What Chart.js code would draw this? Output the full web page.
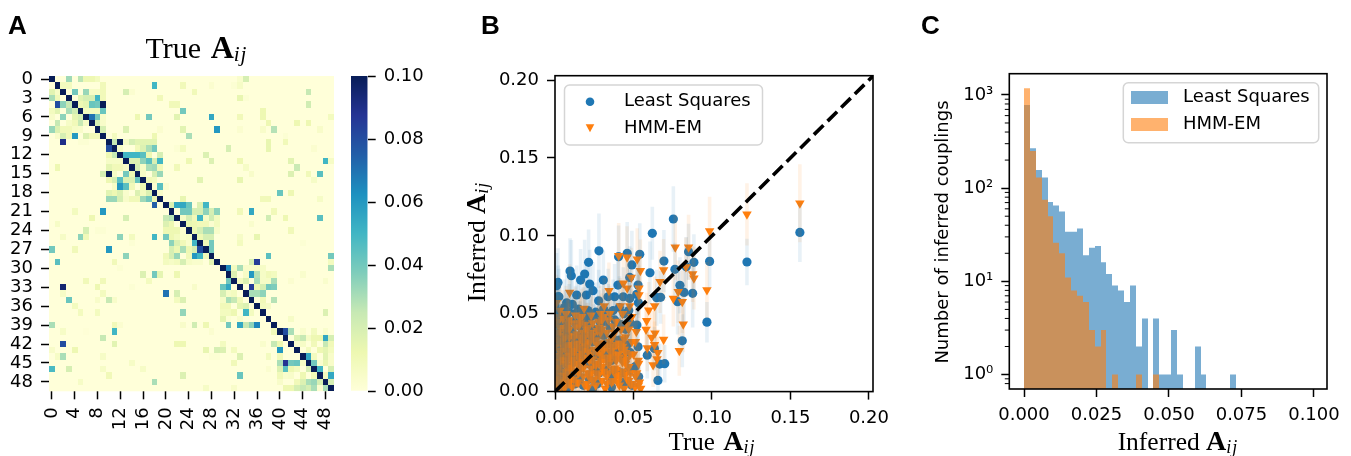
<!DOCTYPE html>
<html><head><meta charset="utf-8">
<script src="https://cdn.jsdelivr.net/npm/chart.js@4"></script>
<style>
html,body{margin:0;padding:0;background:#fff;width:1351px;height:456px;overflow:hidden}
canvas{position:absolute;top:0}
.t{position:absolute;white-space:nowrap;color:#000;line-height:1}
.letter{font:bold 26px "Liberation Sans",sans-serif}
.m{font-family:"Liberation Serif",serif;font-size:25.5px}
.m b{font-size:28px}
.m sub{font-size:18px;font-style:italic;vertical-align:-3px;line-height:0;letter-spacing:1px}
.c{transform:translate(-50%,-50%)}
.r{transform:translate(-50%,-50%) rotate(-90deg)}
.s{font:18px "DejaVu Sans",sans-serif}
</style></head><body>
<canvas id="heat" width="345" height="456" style="left:0"></canvas>
<canvas id="cbar" width="95" height="456" style="left:345px"></canvas>
<canvas id="scat" width="465" height="456" style="left:440px"></canvas>
<canvas id="hist" width="451" height="456" style="left:900px"></canvas>
<div class="t letter" style="left:8px;top:10px">A</div>
<div class="t letter" style="left:481px;top:10px">B</div>
<div class="t letter" style="left:921px;top:10px">C</div>
<div class="t m c" style="left:196.5px;top:47px;font-size:30px;word-spacing:2px">True <b style="font-size:32px">A</b><sub style="font-size:21px">ij</sub></div>
<div class="t m c" style="left:712px;top:441px;font-size:25px;word-spacing:2px">True <b>A</b><sub>ij</sub></div>
<div class="t m r" style="left:475.5px;top:241.5px">Inferred <b>A</b><sub>ij</sub></div>
<div class="t m c" style="left:1178px;top:441px">Inferred <b>A</b><sub>ij</sub></div>
<div class="t s r" style="left:941px;top:232px">Number of inferred couplings</div>
<script>
// ---------- Panel A: true coupling matrix, per row: [col, value, col, value, ...]
const heatRows = [
[0,.1,3,.032,5,.027,6,.012,7,.012,8,.008,33,.004,34,.02],
[1,.1,2,.008,3,.008,9,.01,18,.05,23,.01,28,.003,32,.002,33,.006],
[0,.016,1,.006,2,.1,4,.04,6,.033,7,.006,8,.006,9,.01,13,.02,14,.003,25,.01,45,.025],
[0,.03,1,.01,3,.1,5,.016,6,.02,7,.02,8,.05,9,.01,19,.01,33,.014,34,.002],
[1,.08,2,.035,3,.025,4,.1,5,.012,6,.015,7,.042,8,.04,9,.1,21,.01,22,.01,45,.022],
[0,.008,1,.016,3,.03,4,.022,5,.1,6,.008,7,.008,8,.008,9,.042,23,.04,37,.012],
[0,.005,2,.035,4,.015,5,.02,6,.1,7,.07,8,.04,9,.005,15,.012,17,.04,22,.016,28,.055,33,.01,37,.012,49,.008],
[1,.025,3,.006,4,.01,5,.025,6,.006,7,.1,8,.02,9,.005,38,.012,43,.012,45,.012],
[0,.033,1,.018,2,.01,3,.01,4,.006,5,.005,8,.1,9,.02,13,.018,19,.003,23,.016,29,.06,33,.003,37,.005,39,.028,47,.005],
[1,.005,2,.02,3,.01,4,.06,6,.018,7,.01,8,.01,9,.1,11,.008,18,.012,24,.03,41,.002],
[2,.09,5,.002,6,.002,10,.1,11,.025,12,.1,13,.006,14,.02,15,.016,16,.016,17,.016,18,.016,38,.014,41,.01],
[10,.08,11,.1,12,.006,15,.01,16,.018,17,.03,18,.04,22,.002,23,.008,31,.02,38,.014,46,.003],
[10,.012,11,.025,12,.1,13,.05,14,.05,15,.05,16,.045,17,.012,19,.02,27,.018],
[10,.006,11,.006,12,.006,13,.1,14,.018,15,.018,16,.035,17,.045,18,.02,19,.05,24,.012,28,.018,33,.012,42,.016,48,.05,49,.006],
[1,.012,10,.015,11,.01,12,.01,13,.006,14,.1,15,.02,16,.006,17,.03,18,.032,19,.01,22,.01,34,.006,43,.024],
[9,.02,10,.1,11,.006,13,.04,14,.012,15,.1,16,.006,18,.02,19,.033,35,.005,42,.018,45,.01,47,.045],
[10,.012,11,.02,12,.045,13,.018,14,.018,15,.042,16,.1,17,.01,18,.008,26,.016,33,.014,46,.006],
[11,.006,12,.06,13,.045,14,.01,16,.012,17,.1,18,.003,19,.045,20,.003],
[10,.016,11,.012,12,.018,13,.004,15,.018,16,.008,17,.018,18,.1,19,.005,40,.042,42,.012],
[10,.033,11,.033,12,.02,13,.005,14,.01,15,.01,16,.032,17,.04,18,.012,19,.1,23,.014,37,.01,38,.01,47,.006],
[18,.075,20,.1,21,.018,22,.055,23,.055,24,.042,26,.018,27,.05],
[4,.008,9,.06,21,.1,23,.04,24,.04,25,.02,26,.02,27,.035,28,.02,29,.035,33,.01,35,.055,39,.01],
[7,.012,13,.02,20,.025,21,.028,22,.1,23,.006,24,.02,25,.01,26,.05,27,.006,28,.022,29,.008,38,.022,41,.012,47,.045],
[1,.006,20,.018,21,.012,23,.1,24,.014,25,.012,26,.01,27,.01,28,.003,29,.008,35,.004],
[6,.02,8,.002,9,.002,20,.012,21,.012,22,.012,23,.003,24,.1,25,.012,26,.02,27,.03,28,.03,29,.005,42,.01],
[2,.006,5,.035,6,.01,12,.035,14,.008,18,.05,20,.04,21,.012,22,.008,23,.004,24,.006,25,.1,26,.012,27,.02,28,.02,33,.006,36,.014],
[14,.002,21,.035,22,.018,23,.01,24,.004,25,.05,26,.1,27,.01,28,.04,33,.008,44,.002],
[0,.04,4,.01,10,.06,21,.02,22,.012,23,.03,24,.012,25,.02,26,.08,27,.1,28,.04],
[13,.035,20,.01,21,.02,22,.033,24,.01,25,.06,26,.05,27,.01,28,.1,38,.045,49,.04],
[1,.045,11,.01,20,.008,21,.006,22,.008,23,.02,24,.006,25,.004,26,.004,28,.015,29,.1,35,.02,36,.085,49,.008],
[12,.002,30,.1,31,.065,32,.008,33,.03,34,.005,35,.005,36,.006,37,.006,49,.03],
[16,.018,18,.04,19,.015,22,.012,31,.1,32,.018,34,.006,35,.06,36,.028,37,.006,38,.01,39,.008,44,.004],
[6,.01,9,.01,17,.008,31,.04,32,.1,33,.008,34,.018,36,.03,37,.006,38,.006,39,.03,42,.003,48,.004],
[2,.095,8,.012,14,.002,25,.005,30,.042,31,.055,33,.1,35,.085,36,.012,37,.02,38,.04,39,.038],
[2,.006,9,.008,20,.07,22,.02,30,.02,31,.006,32,.008,34,.1,35,.03,36,.03,37,.035],
[3,.042,8,.005,10,.025,11,.005,22,.008,23,.018,30,.006,31,.03,32,.025,33,.01,35,.1,37,.01,39,.028],
[4,.008,30,.01,31,.01,33,.015,34,.018,36,.1,37,.008,38,.006],
[5,.008,8,.008,23,.034,30,.008,31,.008,32,.012,34,.05,35,.008,37,.1,48,.018],
[30,.015,31,.002,33,.004,38,.1,42,.006],
[0,.03,11,.01,12,.003,23,.005,25,.022,27,.012,31,.04,33,.055,34,.025,35,.035,36,.065,39,.1],
[2,.006,6,.001,11,.05,28,.003,39,.01,40,.1,41,.08,42,.03,44,.004,46,.008,48,.004],
[9,.025,41,.1,43,.018,44,.025,45,.006,46,.012,47,.012,48,.055,49,.02],
[2,.08,11,.016,22,.012,23,.012,30,.008,37,.004,39,.025,40,.012,42,.1,43,.003,44,.006,46,.01,48,.025,49,.01],
[0,.005,4,.012,27,.014,29,.02,30,.018,32,.008,40,.06,43,.1,45,.008,47,.012,48,.015,49,.008],
[1,.006,2,.03,9,.006,28,.002,29,.002,33,.018,38,.008,40,.01,44,.1,45,.055,46,.008,48,.016,49,.005],
[14,.006,32,.01,40,.03,41,.088,42,.04,43,.042,44,.006,45,.1,46,.04,47,.004,48,.014,49,.005],
[0,.048,3,.02,9,.006,16,.006,38,.003,40,.018,41,.045,42,.012,43,.008,45,.02,46,.1,47,.05,49,.02],
[10,.01,23,.018,33,.042,40,.01,41,.004,42,.005,44,.012,46,.01,47,.1,48,.008,49,.055],
[5,.006,18,.03,40,.005,43,.01,44,.018,45,.03,46,.033,47,.02,48,.1,49,.02],
[27,.006,32,.005,41,.012,42,.012,43,.02,44,.025,45,.02,46,.03,47,.003,48,.03,49,.1]
];
const heatXTicks = [0,4,8,12,16,20,24,28,32,36,40,44,48];
const heatYTicks = [0,3,6,9,12,15,18,21,24,27,30,33,36,39,42,45,48];
const cbarTicks = [0,.02,.04,.06,.08,.1];
const cmap = ['#ffffd9','#edf8b1','#c7e9b4','#7fcdbb','#41b6c4','#1d91c0','#225ea8','#253494','#081d58'];

// ---------- Panel B: true vs inferred couplings
const lsX = [.156,.1223,.0985,.0968,.0885,.0877,.0851,.0822,.0811,.0836,.0796,.0781,.0764,.0754,.0694,.0699,.0667,.0656,.0673,.0648,.0633,.062,.0605,.0588,.0533,.0529,.0529,.0531,.054,.0522,.051,.052,.0476,.0476,.049,.046,.0435,.0405,.0401,.038,.0338,.0308,.0278,.028,.0242,.0221,.0214,.02,.0189,.0163,.0138,.0104,.0096,.0074,.0025,.0019,
.001,.002,0,.001,.003,.001,.002,.004,.001,.002,0,.003,.001,.004,.002,0,.003,.001,.002,.004,.001,.003,
.006,.007,.009,.005,.008,.006,.009,.007,.005,.008,.006,.009,.007,.005,.008,
.011,.013,.015,.018,.012,.016,.019,.011,.014,.017,.012,.015,.018,.011,.014,.017,.019,.012,.016,.013,.018,
.021,.023,.026,.028,.022,.025,.029,.021,.024,.027,.023,.026,.029,.021,.025,.028,.022,.027,.024,
.031,.034,.037,.032,.035,.038,.031,.034,.037,.033,.036,.039,.032,.035,.038,.036,
.041,.044,.047,.042,.045,.048,.041,.046,.043,.048,.042,.047,.044,.049];
const lsY = [.1022,.0832,.0836,.0446,.083,.0631,.0898,.0637,.0326,.0802,.0682,.0577,.0785,.1108,.0838,.0179,.0177,.0072,.0605,.0603,.0277,.1016,.0763,.0234,.0095,.0288,.0684,.057,.0881,.0427,.016,.0624,.0733,.0598,.0813,.0888,.0609,.0866,.0684,.0609,.0609,.0716,.0583,.0904,.0648,.069,.083,.062,.0755,.0716,.062,.0744,.0774,.057,.0609,.0701,
.068,.061,.055,.052,.049,.046,.043,.04,.037,.034,.03,.028,.025,.022,.02,.017,.014,.011,.008,.005,.003,.001,
.054,.048,.051,.044,.041,.037,.033,.03,.026,.023,.019,.015,.011,.007,.003,
.056,.05,.053,.049,.045,.042,.046,.038,.035,.037,.03,.027,.031,.023,.02,.017,.024,.012,.009,.005,.004,
.052,.048,.051,.047,.043,.04,.044,.035,.032,.036,.026,.023,.028,.018,.015,.012,.008,.005,.002,
.053,.05,.052,.045,.041,.046,.036,.031,.034,.024,.02,.026,.014,.009,.012,.003,
.054,.05,.052,.043,.04,.044,.033,.03,.022,.025,.012,.014,.006,.004];
const lsErr = [.019,.015,.017,.013,.018,.022,.018,.019,.017,.019,.018,.021,.017,.021,.02,.012,.013,.011,.017,.018,.014,.017,.02,.015,.012,.015,.019,.018,.02,.016,.013,.017,.02,.019,.022,.02,.019,.02,.02,.021,.018,.019,.02,.024,.018,.022,.021,.02,.022,.02,.019,.023,.021,.02,.018,.022,
.021,.02,.018,.017,.019,.016,.017,.018,.016,.017,.015,.016,.015,.014,.016,.014,.013,.013,.012,.012,.011,.01,
.018,.017,.018,.016,.016,.015,.016,.015,.014,.015,.013,.013,.012,.011,.01,
.019,.018,.02,.018,.017,.016,.018,.016,.015,.016,.014,.014,.015,.013,.012,.012,.014,.011,.01,.01,.009,
.019,.018,.019,.018,.016,.016,.017,.015,.014,.016,.013,.013,.014,.012,.011,.011,.01,.009,.008,
.02,.019,.02,.017,.017,.018,.015,.015,.016,.013,.012,.014,.011,.01,.011,.008,
.02,.019,.02,.017,.016,.018,.015,.015,.013,.014,.011,.012,.009,.008];

const hmmX = [.156,.1223,.0985,.0968,.0885,.0877,.0851,.0834,.0811,.0817,.0792,.0785,.0766,.0754,.0692,.0692,.0669,.0637,.0635,.0616,.0597,.0584,.058,.0544,.0535,.0535,.0524,.0518,.0486,.0476,.046,.0459,.0435,.0406,.0344,.0314,.0185,.0093,
0,.001,.002,.003,0,.004,.001,.002,.003,0,.004,.001,.002,.003,0,.001,.003,.001,.004,.002,.004,.002,.001,.003,0,.005,.005,.005,.005,
.006,.007,.008,.009,.006,.007,.008,.009,.006,.007,.008,.009,.007,.009,.006,.008,.009,.006,
.011,.012,.013,.014,.015,.016,.017,.018,.019,.011,.012,.013,.014,.015,.016,.012,.018,.019,.017,.019,.015,.016,.018,.013,.011,.019,.017,
.021,.022,.023,.024,.025,.026,.027,.028,.029,.021,.022,.023,.024,.026,.027,.028,.029,.021,.025,.026,.028,.029,.023,.03,.03,.03,.03,
.032,.033,.034,.035,.036,.037,.031,.032,.033,.034,.036,.037,.038,.039,.035,.038,.039,.031,.039,
.041,.042,.043,.044,.045,.046,.041,.042,.043,.046,.047,.048,.049,.047,.049,.044,.049,.048,.045,.05,.051,.052,.053,
.0533,.0512,.0588,.0634,.0655,.0512,.0532,.0416,.0538,.0546,.0625,.0650];
const hmmY = [.1209,.1138,.1031,.0652,.0727,.0755,.0926,.08,.0577,.0433,.0262,.0641,.0926,.0598,.078,.0335,.0705,.0374,.0549,.0348,.0523,.0455,.0399,.0776,.0663,.062,.0849,.0384,.0733,.0549,.0663,.0862,.0695,.0872,.0648,.0549,.0534,.0637,
.002,.005,.008,.011,.014,.017,.02,.023,.026,.029,.032,.035,.038,.041,.044,.048,.052,.057,.003,.014,.026,.045,.012,.019,.038,.008,.022,.036,.047,
.002,.006,.01,.014,.018,.022,.026,.03,.034,.038,.042,.046,.05,.005,.011,.017,.023,.028,
.003,.008,.013,.018,.023,.028,.033,.038,.043,.019,.025,.031,.037,.042,.047,.044,.01,.004,.016,.021,.006,.014,.026,.049,.036,.035,.048,
.003,.009,.015,.021,.027,.033,.039,.045,.05,.026,.032,.038,.044,.004,.011,.018,.024,.041,.008,.017,.031,.038,.049,.007,.016,.028,.046,
.002,.01,.018,.026,.034,.042,.021,.03,.038,.046,.006,.014,.022,.03,.05,.038,.045,.048,.01,
.004,.011,.019,.027,.035,.043,.031,.04,.05,.008,.016,.024,.032,.04,.048,.002,.005,.012,.018,.024,.003,.012,.02,
.018,.032,.028,.03,.025,.01,.004,.055,.006,.002,.017,.021];
const hmmErr = [.025,.02,.022,.018,.02,.018,.021,.019,.02,.018,.016,.02,.021,.018,.02,.016,.02,.017,.019,.017,.018,.018,.017,.02,.019,.019,.02,.017,.019,.018,.019,.02,.019,.021,.018,.018,.018,.018,
.009,.01,.011,.012,.012,.013,.013,.014,.014,.015,.015,.015,.016,.016,.017,.017,.018,.018,.009,.012,.014,.017,.011,.013,.016,.011,.014,.016,.018,
.009,.01,.011,.012,.013,.014,.015,.015,.016,.016,.017,.017,.018,.01,.012,.013,.014,.015,
.01,.011,.012,.013,.014,.015,.016,.016,.017,.013,.014,.015,.016,.016,.017,.017,.011,.01,.013,.014,.01,.012,.015,.018,.016,.016,.018,
.01,.012,.013,.014,.015,.016,.016,.017,.018,.015,.016,.016,.017,.01,.012,.013,.014,.016,.011,.013,.015,.016,.018,.011,.013,.015,.017,
.01,.012,.014,.015,.016,.017,.014,.015,.016,.017,.011,.012,.014,.015,.018,.016,.017,.018,.012,
.011,.012,.014,.015,.016,.017,.015,.016,.018,.012,.013,.014,.015,.016,.018,.01,.011,.012,.014,.014,.01,.012,.014,
.014,.015,.015,.015,.015,.012,.011,.018,.011,.01,.014,.014];
// the densest, mostly hidden part of the HMM-EM cloud
const hmmXLow = [.002,.004,.001,.003,.005,.002,.004,.006,.008,.007,
.009,.01,.011,.01,.012,.009,.013,.014,.012,.015,
.016,.014,.017,.018,.016,.019,.02,.018,.021,.02,
.022,.023,.021,.024,.025,.023,.026,.027,.025,.028,
.029,.027,.03,.031,.029,.032,.033,.031,.034,.035,
.033,.036,.037,.035,.038,.039,.037,.04,.041,.039,
.042,.043,.041,.044,.045,.043,.046,.047,.045,.048,
.01,.006,.003,.013,.02,.026,.033,.04,.022,.016,
.036,.028,.044,.008,.011,.024,.019,.03,.035,.042];
const hmmYLow = [.001,.007,.016,.021,.029,.032,.041,.013,.02,.03,
.035,.008,.016,.024,.021,.04,.027,.006,.035,.012,
.02,.03,.025,.015,.035,.028,.005,.031,.012,.022,
.02,.012,.03,.007,.018,.024,.012,.03,.033,.011,
.02,.026,.022,.013,.031,.021,.005,.027,.012,.019,
.029,.024,.007,.032,.015,.02,.028,.006,.022,.014,
.027,.013,.009,.02,.011,.029,.021,.007,.025,.005,
.03,.04,.033,.042,.04,.026,.03,.024,.036,.044,
.029,.041,.034,.044,.028,.036,.03,.04,.022,.03];
const hmmErrLow = [.012,.013,.014,.015,.016,.016,.017,.013,.015,.016,
.016,.013,.014,.015,.015,.017,.016,.012,.016,.014,
.015,.016,.015,.014,.016,.016,.012,.016,.014,.015,
.015,.014,.016,.012,.015,.015,.013,.016,.016,.013,
.015,.016,.015,.014,.016,.015,.012,.016,.014,.015,
.016,.015,.012,.016,.014,.015,.016,.012,.015,.014,
.016,.014,.013,.015,.014,.016,.015,.012,.015,.012,
.016,.017,.016,.017,.017,.016,.016,.015,.016,.017,
.016,.017,.016,.017,.016,.016,.016,.017,.015,.016];
const diagonal = [0,.21];
const scatXTicks = [0,.05,.1,.15,.2];
const scatYTicks = [0,.05,.1,.15,.2];

// ---------- Panel C: histogram of inferred couplings
const binWidth = .00203;
const lsCounts  = [781,268,157,130,71,65,56,34,34,37,19,23,24,16,12,9,8,6,9,2,4,null,4,1,1,3,1,null,null,2,1,null,null,null,null,1];
const hmmCounts = [1178,251,130,75,50,26,20,11,8,7,6,3,2,3,null,1,null,null,null,1,null,null,1];
const histXTicks = [0,.025,.05,.075,.1];
const histYTicks = [1,10,100,1000];
const histYLabels = ['10\u2070','10\u00b9','10\u00b2','10\u00b3'];
const histMinorTicks = [.8,.9,2,3,4,5,6,7,8,9,20,30,40,50,60,70,80,90,200,300,400,500,600,700,800,900];

// ---------- helpers
const names = ['Least Squares','HMM-EM'];
const BLUE='#1f77b4', ORANGE='#ff7f0e';
const FONT='"DejaVu Sans",sans-serif';
const tickFont={family:'"DejaVu Sans",sans-serif',size:18};
Chart.defaults.color='#000';
function hex(c){return [1,3,5].map(i=>parseInt(c.substr(i,2),16));}
function colorOf(v){
  const t=Math.min(1,Math.max(0,v/.1))*(cmap.length-1),i=Math.min(cmap.length-2,Math.floor(t)),f=t-i;
  const a=hex(cmap[i]),b=hex(cmap[i+1]);
  return 'rgb('+a.map((x,k)=>Math.round(x+(b[k]-x)*f)).join(',')+')';
}
function rgba(c,a){const h=hex(c);return 'rgba('+h.join(',')+','+a+')';}
function frameAt(cx,cw,L,T,R,B){return {
  padding:{left:0,top:T,right:cx+cw-R,bottom:0},
  yFit:s=>{s.width=L-cx;s.paddingTop=0;s.paddingBottom=0;},
  xFit:s=>{s.height=456-B;s.paddingLeft=0;s.paddingRight=0;}
};}
const TL=8, TW=1.5;
function axis(list,extra,fmt,fit){return Object.assign({
  type:'linear',offset:false,
  afterBuildTicks:s=>{s.ticks=list.map(v=>({value:v}));},
  afterFit:fit,
  border:{display:false},
  grid:{offset:false,drawOnChartArea:false,drawTicks:true,tickLength:TL,tickWidth:TW,tickColor:'#000'},
  ticks:{font:tickFont,color:'#000',padding:8,autoSkip:false,minRotation:0,maxRotation:0,callback:fmt}
},extra);}
const framePlugin={id:'frame',afterDatasetsDraw(c,a,o){
  if(!o.on)return;const r=c.chartArea,x=c.ctx;x.save();x.strokeStyle='#000';x.lineWidth=1.6;
  x.strokeRect(r.left,r.top,r.right-r.left,r.bottom-r.top);x.restore();}};
const bgPlugin={id:'bg',beforeDatasetsDraw(c,a,o){
  if(!o.color)return;const r=c.chartArea,x=c.ctx;x.save();x.fillStyle=o.color;
  x.fillRect(r.left,r.top,r.right-r.left,r.bottom-r.top);x.restore();}};
// snaps adjacent bar edges to whole pixels so that cells and bins leave no seams
const snapPlugin={id:'snap',afterDatasetsUpdate(c,a,o){
  if(!o.on)return;
  c.getSortedVisibleDatasetMetas().forEach(m=>m.data.forEach(el=>{
    if(!Number.isFinite(el.x)||!Number.isFinite(el.y))return;
    if(el.horizontal){
      const t=Math.round(el.y-el.height/2),b=Math.round(el.y+el.height/2);
      el.y=(t+b)/2;el.height=b-t;el.x=Math.round(el.x);el.base=Math.round(el.base);
    }else{
      const l=Math.round(el.x-el.width/2),r=Math.round(el.x+el.width/2);
      el.x=(l+r)/2;el.width=r-l;
    }
  }));
}};
const boxLegend={id:'boxLegend',afterDraw(c,a,o){
  if(!o.box)return;const x=c.ctx,[l,t,w,h]=o.box;x.save();
  x.beginPath();x.roundRect(l,t,w,h,5);x.fillStyle='rgba(255,255,255,.8)';x.fill();
  x.strokeStyle='#d5d5d5';x.lineWidth=1.5;x.stroke();
  x.font='18px '+FONT;x.textBaseline='middle';x.fillStyle='#000';
  o.rows.forEach((row,i)=>{
    x.fillStyle=row.color;
    if(row.kind==='circle'){x.beginPath();x.arc(row.mx,row.y,4.3,0,Math.PI*2);x.fill();}
    else if(row.kind==='tri'){x.beginPath();x.moveTo(row.mx-4.3,row.y-4);x.lineTo(row.mx+4.3,row.y-4);x.lineTo(row.mx,row.y+4);x.closePath();x.fill();}
    else{x.fillRect(row.mx,row.y-6.5,37,13);}
    x.fillStyle='#000';x.fillText(names[i],row.tx,row.y);
  });
  x.restore();}};
Chart.register(framePlugin,bgPlugin,boxLegend,snapPlugin);
const base={responsive:false,animation:false,events:[],plugins:{legend:{display:false},tooltip:{enabled:false},title:{display:false}}};

// ---------- Panel A
{
  const f=frameAt(0,345,49,76,334,391.3);
  const data=[],colors=[];
  heatRows.forEach((row,r)=>{for(let i=0;i<row.length;i+=2){data.push({x:[row[i],row[i]+1],y:r+.5});colors.push(colorOf(row[i+1]));}});
  const ax=axis(heatXTicks.map(v=>v+.5),{min:0,max:50},v=>v-.5,f.xFit);
  ax.ticks.minRotation=90;ax.ticks.maxRotation=90;
  new Chart('heat',{type:'bar',data:{datasets:[{data,backgroundColor:colors,borderWidth:0,barPercentage:1,categoryPercentage:1,inflateAmount:0}]},
   options:Object.assign({},base,{indexAxis:'y',layout:{padding:f.padding,autoPadding:false},
    plugins:Object.assign({},base.plugins,{bg:{color:cmap[0]},snap:{on:true}}),
    scales:{
     x:ax,
     y:axis(heatYTicks.map(v=>v+.5),{min:0,max:50,reverse:true},v=>v-.5,f.yFit)
    }})});
}

// colorbar
{
  new Chart('cbar',{type:'bar',data:{labels:[''],datasets:[{data:[[0,.1]],barPercentage:1,categoryPercentage:1,borderWidth:0,inflateAmount:0,
    backgroundColor(ctx){const a=ctx.chart.chartArea;if(!a)return cmap[0];
      const g=ctx.chart.ctx.createLinearGradient(0,a.bottom,0,a.top);cmap.forEach((c,i)=>g.addColorStop(i/(cmap.length-1),c));return g;}}]},
   options:Object.assign({},base,{layout:{padding:{left:6,top:76,right:0,bottom:456-391.3},autoPadding:false},
    scales:{
     x:{display:false,offset:true},
     y:axis(cbarTicks,{min:0,max:.1,position:'right'},v=>v.toFixed(2),s=>{s.width=95-(367.7-345);s.paddingTop=0;s.paddingBottom=0;})
    }})});
}

// ---------- Panel B
{
  const f=frameAt(440,465,555,75.7,873,391.6);
  const bars=(X,Y,E)=>X.map((x,i)=>{const e=E[i]??.015;return {x,y:[Y[i]-e,Y[i]+e]};});
  const pts=(X,Y)=>X.map((x,i)=>({x,y:Y[i]}));
  const hX=hmmX.concat(hmmXLow),hY=hmmY.concat(hmmYLow),hE=hmmErr.concat(hmmErrLow);
  new Chart('scat',{type:'scatter',data:{datasets:[
    {type:'scatter',label:'diagonal',data:diagonal.map(v=>({x:v,y:v})),showLine:true,borderColor:'#000',borderWidth:3.6,borderDash:[13.4,5.8],borderCapStyle:'butt',pointRadius:0,order:0,clip:0},
    {type:'bar',label:names[0]+' err',data:bars(lsX,lsY,lsErr),backgroundColor:rgba(BLUE,.1),barThickness:3.6,grouped:false,order:1,borderWidth:0,inflateAmount:0},
    {type:'bar',label:names[1]+' err',data:bars(hX,hY,hE),backgroundColor:rgba(ORANGE,.1),barThickness:3.6,grouped:false,order:2,borderWidth:0,inflateAmount:0},
    {type:'scatter',label:names[1],data:pts(hX,hY),backgroundColor:ORANGE,borderColor:ORANGE,borderWidth:0,pointStyle:'triangle',pointRotation:180,pointRadius:5.5,order:3,clip:0},
    {type:'scatter',label:names[0],data:pts(lsX,lsY),backgroundColor:BLUE,borderColor:BLUE,borderWidth:0,pointStyle:'circle',pointRadius:4.6,order:4,clip:0}
   ]},
   options:Object.assign({},base,{layout:{padding:f.padding,autoPadding:false},
    plugins:Object.assign({},base.plugins,{frame:{on:true},boxLegend:{box:[124.5,85,198,60],rows:[
      {kind:'circle',color:BLUE,mx:150,y:101.7,tx:184},{kind:'tri',color:ORANGE,mx:150,y:128.3,tx:184}]}}),
    scales:{
     x:axis(scatXTicks,{min:0,max:.2026},v=>v.toFixed(2),f.xFit),
     y:axis(scatYTicks,{min:0,max:.2028},v=>v.toFixed(2),f.yFit)
    }})});
}

// ---------- Panel C
{
  const f=frameAt(900,451,1009.3,73.7,1327,389);
  const ser=C=>C.map((v,i)=>({x:(i+.5)*binWidth,y:v}));
  new Chart('hist',{type:'bar',data:{datasets:[
    {label:names[1],data:ser(hmmCounts),backgroundColor:rgba(ORANGE,.6),barPercentage:1,categoryPercentage:1,grouped:false,borderWidth:0,order:1,inflateAmount:0},
    {label:names[0],data:ser(lsCounts),backgroundColor:rgba(BLUE,.6),barPercentage:1,categoryPercentage:1,grouped:false,borderWidth:0,order:2,inflateAmount:0}
   ]},
   options:Object.assign({},base,{layout:{padding:f.padding,autoPadding:false},
    plugins:Object.assign({},base.plugins,{frame:{on:true},snap:{on:true},boxLegend:{box:[223.3,82.7,195.4,60],rows:[
      {kind:'swatch',color:rgba(BLUE,.6),mx:231,y:97.5,tx:283},{kind:'swatch',color:rgba(ORANGE,.6),mx:231,y:124.5,tx:283}]}}),
    scales:{
     x:axis(histXTicks,{min:-.00507,max:.1045},v=>v.toFixed(3),f.xFit),
     y:axis(histYTicks,{type:'logarithmic',min:.708,max:1690},v=>histYLabels[histYTicks.indexOf(v)],f.yFit)
    }}),
   plugins:[{id:'minorY',afterDatasetsDraw(c){const y=c.scales.y,x=c.ctx,l=c.chartArea.left;x.save();x.strokeStyle='#000';x.lineWidth=1;
     histMinorTicks.forEach(v=>{if(v<y.min||v>y.max)return;const p=y.getPixelForValue(v);x.beginPath();x.moveTo(l-4.5,p);x.lineTo(l,p);x.stroke();});x.restore();}}]
  });
}
</script>
</body></html>
